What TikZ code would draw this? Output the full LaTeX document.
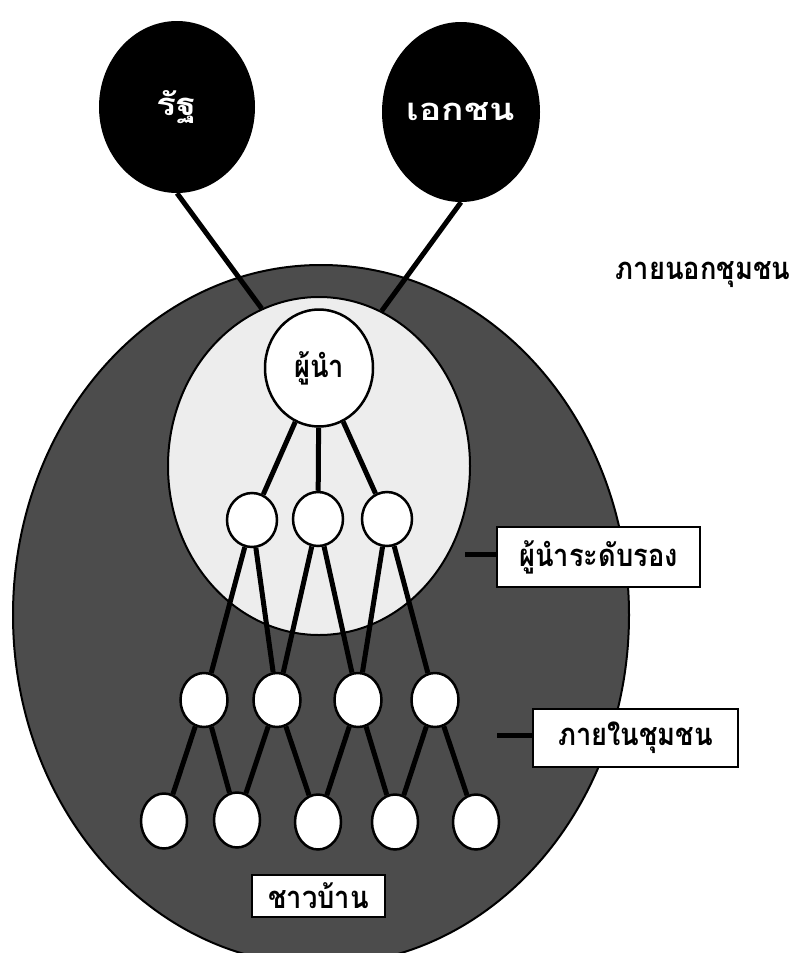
\documentclass[tikz,border=0pt]{standalone}
\usepackage{fontspec}
\newfontfamily\thaifont[Script=Thai,FakeStretch=0.88]{Loma}
\newfontfamily\thaiwide[Script=Thai,FakeStretch=1.2]{Loma}
\usetikzlibrary{shapes.geometric}
\begin{document}
\begin{tikzpicture}[x=1pt,y=-1pt,
  conn/.style={line width=5pt},
  thai/.style={font=\thaifont\bfseries\fontsize{31}{36}\selectfont},
  thaibig/.style={font=\thaiwide\bfseries\fontsize{31}{36}\selectfont},
  circ/.style={ellipse, draw, line width=2.5pt, fill=white, inner sep=0pt},
  lvltwo/.style={circ, minimum width=50pt, minimum height=54pt},
  lvlthree/.style={circ, minimum width=47pt, minimum height=54pt},
  lvlfour/.style={circ, minimum width=46pt, minimum height=55pt},
  outside/.style={ellipse, fill=black, text=white, inner sep=0pt, thaibig},
  labelbox/.style={draw, line width=2.5pt, fill=white, inner sep=0pt, thai}]
\useasboundingbox (0,0) rectangle (798,953);
\clip (0,0) rectangle (798,953);
% regions
\node[ellipse, draw, line width=2pt, fill=black!70, minimum width=616pt, minimum height=700pt, inner sep=0pt] (outer) at (321,615) {};
\node[ellipse, draw, line width=2pt, fill=black!7, minimum width=302pt, minimum height=338pt, inner sep=0pt] (light) at (319,466) {};
% outside actors
\node[outside, minimum width=156pt, minimum height=172pt] (state) at (177,107) {รัฐ};
\node[outside, minimum width=158pt, minimum height=180pt] (private) at (461,112) {เอกชน};
\draw[conn] (state.south) -- (light.110);
\draw[conn] (private.south) -- (light.68);
% leader
\node[circ, thai, minimum width=108pt, minimum height=117pt] (leader) at (319,368) {ผู้นำ};
% level two
\node[lvltwo] (b1) at (252,520) {};
\node[lvltwo] (b2) at (318,519) {};
\node[lvltwo] (b3) at (387,519) {};
% level three
\node[lvlthree] (c1) at (204,700) {};
\node[lvlthree] (c2) at (277,700) {};
\node[lvlthree] (c3) at (358,700) {};
\node[lvlthree] (c4) at (435,700) {};
% level four
\node[lvlfour] (d1) at (164,821) {};
\node[lvlfour] (d2) at (237,820) {};
\node[lvlfour] (d3) at (318,822) {};
\node[lvlfour] (d4) at (395,822) {};
\node[lvlfour] (d5) at (476,822) {};
% connectors
\draw[conn] (leader) -- (b1);
\draw[conn] (leader) -- (b2);
\draw[conn] (leader) -- (b3);
\draw[conn] (b1) -- (c1);
\draw[conn] (b1) -- (c2);
\draw[conn] (b2) -- (c2);
\draw[conn] (b2) -- (c3);
\draw[conn] (b3) -- (c3);
\draw[conn] (b3) -- (c4);
\draw[conn] (c1) -- (d1);
\draw[conn] (c1) -- (d2);
\draw[conn] (c2) -- (d2);
\draw[conn] (c2) -- (d3);
\draw[conn] (c3) -- (d3);
\draw[conn] (c3) -- (d4);
\draw[conn] (c4) -- (d4);
\draw[conn] (c4) -- (d5);
% labels
\node[thai] (outlabel) at (703,275) {ภายนอกชุมชน};
\node[labelbox, minimum width=203pt, minimum height=60pt] (sublead) at (598.5,557) {ผู้นำระดับรอง};
\node[labelbox, minimum width=205pt, minimum height=58pt] (inside) at (635.5,738) {ภายในชุมชน};
\node[labelbox, minimum width=133pt, minimum height=42pt] (villagers) at (318.5,896) {ชาวบ้าน};
\coordinate (t1) at (465,554);
\coordinate (t2) at (497,735);
\draw[conn] (t1) -- (t1 -| sublead.west);
\draw[conn] (t2) -- (t2 -| inside.west);
\end{tikzpicture}
\end{document}
